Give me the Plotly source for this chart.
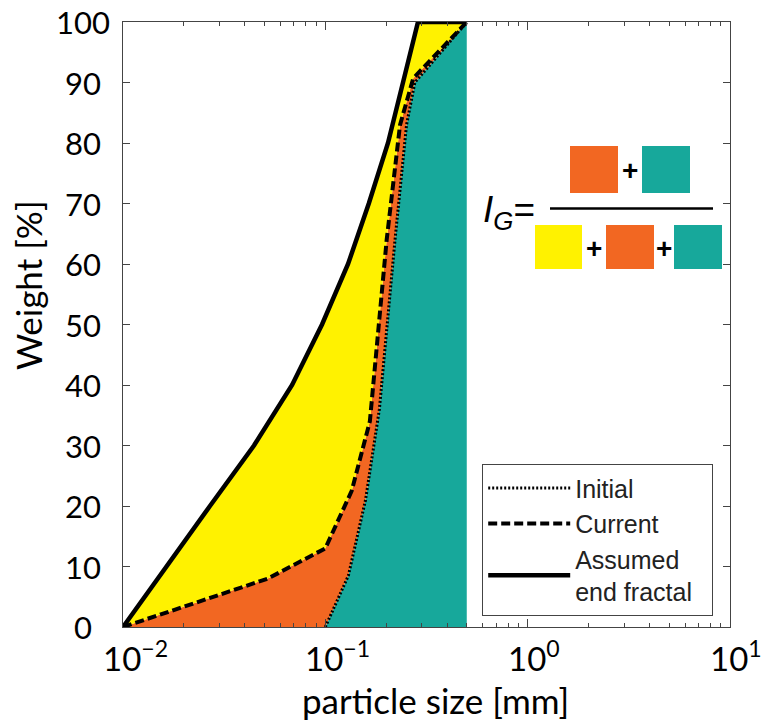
import math
import plotly.graph_objects as go

# ---- data ----
max_size = 0.5  # mm, largest particle size

initial_x = [0.1, 0.13, 0.158, 0.185, 0.221, 0.252, 0.277, 0.5]
initial_y = [0, 8.5, 21, 36, 64, 83, 90, 100]

current_x = [0.01, 0.052, 0.1, 0.135, 0.166, 0.201, 0.234, 0.272, 0.5]
current_y = [0, 8, 13, 22.5, 34, 64, 83, 90.7, 100]

fractal_x = [0.01, 0.0163, 0.0269, 0.0444, 0.0685, 0.0963, 0.1295, 0.164, 0.204, 0.242, 0.287, 0.5]
fractal_y = [0, 10, 20, 30, 40, 50, 60, 70, 80, 90, 100, 100]

x_tickvals = [0.01, 0.1, 1, 10]
x_ticktext = ["10<sup>\u22122</sup>", "10<sup>\u22121</sup>", "10<sup>0</sup>", "10<sup>1</sup>"]
x_minorvals = [k * 10.0 ** e for e in (-2, -1, 0) for k in range(2, 10)]
y_tickvals = [0, 10, 20, 30, 40, 50, 60, 70, 80, 90, 100]
y_ticktext = [str(v) for v in y_tickvals]

YELLOW = "#FFF200"
ORANGE = "#F26722"
TEAL = "#17A89B"

fig = go.Figure()

# teal: right of the initial curve
fig.add_trace(go.Scatter(
    x=initial_x + [max_size], y=initial_y + [0],
    fill="toself", fillcolor=TEAL, mode="none", showlegend=False, hoverinfo="skip"))
# orange: between current and initial
fig.add_trace(go.Scatter(
    x=current_x + initial_x[::-1], y=current_y + initial_y[::-1],
    fill="toself", fillcolor=ORANGE, mode="none", showlegend=False, hoverinfo="skip"))
# yellow: between assumed end fractal and current
fig.add_trace(go.Scatter(
    x=fractal_x + current_x[::-1], y=fractal_y + current_y[::-1],
    fill="toself", fillcolor=YELLOW, mode="none", showlegend=False, hoverinfo="skip"))

# lines
fig.add_trace(go.Scatter(x=initial_x, y=initial_y, mode="lines", name="Initial",
                         line=dict(color="black", width=3, dash="2px,2px")))
fig.add_trace(go.Scatter(x=current_x, y=current_y, mode="lines", name="Current",
                         line=dict(color="black", width=4, dash="9px,4px")))
fig.add_trace(go.Scatter(x=fractal_x, y=fractal_y, mode="lines",
                         name="Assumed<br>end fractal\u00a0\u00a0",
                         line=dict(color="black", width=4.5)))

# ---- geometry helpers (pixel -> paper) for the I_G formula graphic ----
L, R, T, B = 123, 730, 22, 627
def px(x):
    return (x - L) / (R - L)
def py(y):
    return (B - y) / (B - T)

shapes = []
def square(x0, y0, x1, y1, color):
    shapes.append(dict(type="rect", xref="paper", yref="paper",
                       x0=px(x0), x1=px(x1), y0=py(y1), y1=py(y0),
                       fillcolor=color, line=dict(width=0), layer="above"))

# numerator
square(570, 146, 618, 193, ORANGE)
square(642, 146, 690, 193, TEAL)
# fraction bar
shapes.append(dict(type="line", xref="paper", yref="paper",
                   x0=px(550), x1=px(713), y0=py(208.5), y1=py(208.5),
                   line=dict(color="black", width=2.5), layer="above"))
# denominator
square(535, 225, 582, 269, YELLOW)
square(606, 225, 654, 269, ORANGE)
square(674, 225, 722, 269, TEAL)

annotations = []
def text(x, y, s, size, family="Liberation Sans", angle=0, xanchor="center"):
    annotations.append(dict(xref="paper", yref="paper", x=px(x), y=py(y), text=s,
                            showarrow=False, xanchor=xanchor, yanchor="middle",
                            textangle=angle, font=dict(size=size, family=family, color="black")))

text(630, 170, "<b>+</b>", 28)
text(594, 248, "<b>+</b>", 28)
text(664, 248, "<b>+</b>", 28)
text(481, 212, "<i>I</i><sub><i>G</i></sub>=", 37, xanchor="left")

# axis titles
text(435, 700, "particle size [mm]", 35, family="Lato")
text(28, 285, "Weight [%]", 35, family="Lato", angle=-90)

# tick labels (placed with the axes' own scales, centred as in the reference)
for v, t in zip(y_tickvals, y_ticktext):
    annotations.append(dict(xref="paper", yref="y", x=px(83), y=v, text=t,
                            showarrow=False, xanchor="center", yanchor="middle",
                            font=dict(size=31, family="Lato", color="black")))
for v, t in zip(x_tickvals, x_ticktext):
    annotations.append(dict(xref="x", yref="paper", x=math.log10(v), y=py(656), text=t,
                            showarrow=False, xanchor="left", yanchor="middle", xshift=-22,
                            font=dict(size=33, family="Lato", color="black")))

fig.update_layout(
    width=761, height=726, autosize=False,
    margin=dict(l=L, r=761 - R, t=T, b=726 - B),
    plot_bgcolor="white", paper_bgcolor="white",
    shapes=shapes, annotations=annotations,
    legend=dict(x=px(482), y=py(464), xanchor="left", yanchor="top",
                bordercolor="#444", borderwidth=1.2, bgcolor="white",
                font=dict(family="Liberation Sans", size=25, color="#222"),
                itemwidth=82, tracegroupgap=0),
    showlegend=True,
)

fig.update_xaxes(
    type="log", range=[-2, 1], tickvals=x_tickvals, showticklabels=False,
    ticks="inside", ticklen=8, tickcolor="#444", showline=True, linecolor="#444",
    linewidth=1.2, mirror="ticks", showgrid=False, zeroline=False,
    minor=dict(tickvals=x_minorvals, ticks="inside", ticklen=4, tickcolor="#444", showgrid=False),
)
fig.update_yaxes(
    range=[0, 100], tickvals=y_tickvals, showticklabels=False, ticks="inside", ticklen=7,
    tickcolor="#444", showline=True, linecolor="#444", linewidth=1.2, mirror="ticks",
    showgrid=False, zeroline=False,
)

fig.write_html("out.html")
